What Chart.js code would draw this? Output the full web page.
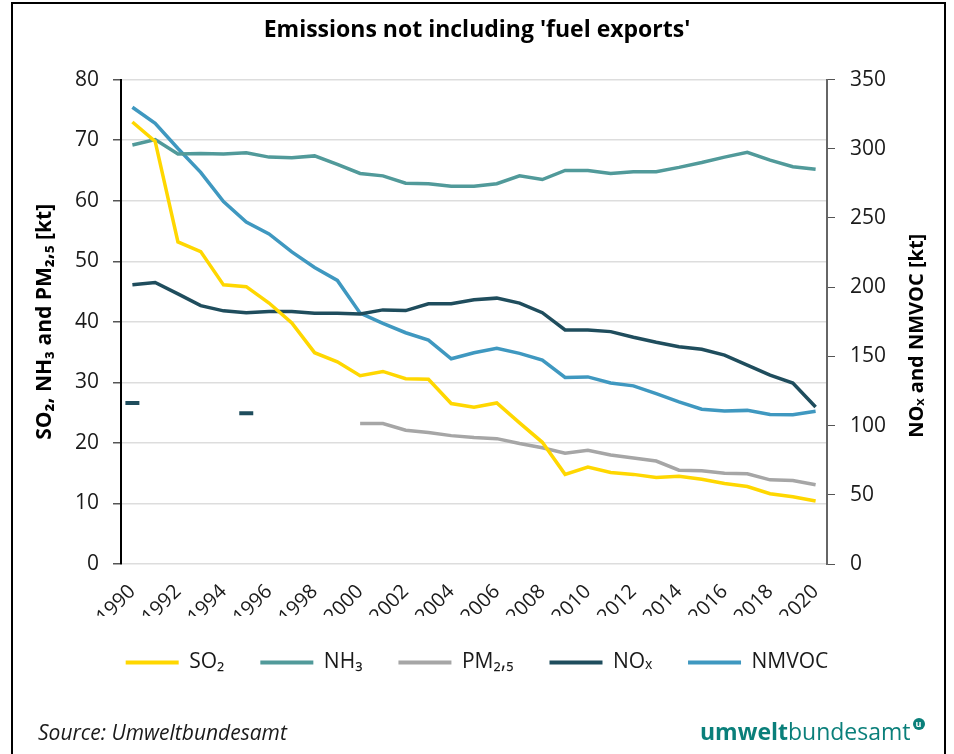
<!DOCTYPE html>
<html>
<head>
<meta charset="utf-8">
<script src="https://cdn.jsdelivr.net/npm/chart.js@4.4.1/dist/chart.umd.min.js"></script>
<style>
  body { margin: 0; background: #fff; font-family: 'Open Sans', sans-serif; }
  #wrap { position: relative; width: 954px; height: 754px; overflow: hidden; }
  #chart { position: absolute; left: 0; top: 0; }
  #frame { position: absolute; left: 11px; top: 2px; width: 931px; height: 800px; border: 2px solid #000; pointer-events: none; }
  #source { position: absolute; left: 38px; top: 720px; font-size: 21px; line-height: 24px; font-style: italic; color: #1a1a1a; }
  #logo { position: absolute; left: 700px; top: 718px; font-size: 23px; line-height: 26px; color: #0a7f7a; }
  #logo b { font-weight: 700; }
  #logo span { display: inline-block; width: 12px; height: 12px; border-radius: 6px; background: #0a7f7a; color: #fff; font-size: 9px; line-height: 12px; text-align: center; vertical-align: 13px; margin-left: 2px; font-weight: 700; }
</style>
</head>
<body>
<div id="wrap">
  <canvas id="chart" width="954" height="754"></canvas>
  <div id="frame"></div>
  <div id="source">Source: Umweltbundesamt</div>
  <div id="logo"><b>umwelt</b>bundesamt<span>u</span></div>
</div>
<script>
// values
var years = ['1990','1991','1992','1993','1994','1995','1996','1997','1998','1999',
             '2000','2001','2002','2003','2004','2005','2006','2007','2008','2009',
             '2010','2011','2012','2013','2014','2015','2016','2017','2018','2019','2020'];

// left axis (kt)
var so2 = [73.0, 69.8, 53.2, 51.6, 46.1, 45.8, 43.1, 39.8, 34.9, 33.4,
           31.1, 31.8, 30.6, 30.5, 26.5, 25.9, 26.6, 23.3, 20.1, 14.8,
           16.0, 15.1, 14.8, 14.3, 14.5, 14.0, 13.3, 12.8, 11.6, 11.1, 10.4];
var nh3 = [69.2, 70.1, 67.7, 67.8, 67.7, 67.9, 67.2, 67.1, 67.4, 66.0,
           64.5, 64.1, 62.9, 62.8, 62.4, 62.4, 62.8, 64.1, 63.5, 65.0,
           65.0, 64.5, 64.8, 64.8, 65.5, 66.3, 67.2, 68.0, 66.7, 65.6, 65.2];
var pm25 = [null, null, null, null, null, null, null, null, null, null,
            23.2, 23.2, 22.1, 21.7, 21.2, 20.9, 20.7, 19.9, 19.2, 18.3,
            18.8, 18.0, 17.5, 17.0, 15.5, 15.4, 15.0, 14.9, 13.9, 13.8, 13.1];

// right axis (kt)
var nox = [201.7, 203.4, 195.2, 186.7, 182.9, 181.6, 182.4, 182.4, 181.2, 181.2,
           180.7, 183.6, 183.1, 188.0, 188.0, 190.9, 192.1, 188.5, 181.6, 169.1,
           169.1, 167.9, 163.8, 160.2, 157.0, 155.1, 150.9, 143.7, 136.4, 130.8, 113.4];
var nmvoc = [330.0, 318.4, 300.2, 283.0, 261.8, 247.0, 238.5, 225.5, 214.3, 204.9,
             181.2, 173.9, 167.1, 161.8, 148.3, 152.6, 155.8, 152.2, 147.3, 134.8,
             135.2, 130.8, 128.7, 123.1, 117.1, 111.8, 110.6, 111.0, 108.1, 107.9, 110.3];
// two stray NOx markers in the original graphic
var noxMarks = [116.3, null, null, null, null, 108.9, null, null, null, null,
                null, null, null, null, null, null, null, null, null, null,
                null, null, null, null, null, null, null, null, null, null, null];

var colSO2 = '#ffd700', colNH3 = '#519a9a', colPM = '#a6a6a6', colNOx = '#1f4d5d', colVOC = '#3f98c0';

Chart.defaults.font.family = "'Open Sans', sans-serif";
Chart.defaults.color = '#1a1a1a';

function lineSet(label, data, color, axis) {
    return {
        label: label,
        data: data,
        yAxisID: axis,
        borderColor: color,
        backgroundColor: color,
        borderWidth: 3.5,
        pointRadius: 0,
        tension: 0,
        spanGaps: false
    };
}

var rightTitle = {
    id: 'rightTitle',
    afterDraw: function(chart) {
        var ctx = chart.ctx, a = chart.chartArea;
        ctx.save();
        ctx.translate(chart.scales.y1.right - 37, (a.top + a.bottom) / 2 + 14);
        ctx.rotate(-Math.PI / 2);
        ctx.font = "bold 20px 'Open Sans', sans-serif";
        ctx.fillStyle = '#000';
        ctx.textAlign = 'center';
        ctx.textBaseline = 'middle';
        ctx.fillText('NOₓ and NMVOC [kt]', 0, 0);
        ctx.restore();
    }
};

var ctx = document.getElementById('chart').getContext('2d');
new Chart(ctx, {
    type: 'line',
    data: {
        labels: years,
        datasets: [
            lineSet('SO₂', so2, colSO2, 'y'),
            lineSet('NH₃', nh3, colNH3, 'y'),
            lineSet('PM₂,₅', pm25, colPM, 'y'),
            lineSet('NOₓ', nox, colNOx, 'y1'),
            lineSet('NMVOC', nmvoc, colVOC, 'y1'),
            {
                label: 'marks',
                data: noxMarks,
                yAxisID: 'y1',
                showLine: false,
                pointStyle: 'line',
                pointRadius: 7,
                pointBorderWidth: 4,
                pointBorderColor: colNOx,
                borderColor: colNOx,
                backgroundColor: colNOx
            }
        ]
    },
    options: {
        responsive: false,
        animation: false,
        layout: { padding: { left: 0, right: 0, top: 0, bottom: 71 } },
        plugins: {
            title: {
                display: true,
                text: "Emissions not including 'fuel exports'",
                color: '#000',
                font: { size: 23, weight: 'bold' },
                padding: { top: 17, bottom: 35 }
            },
            legend: {
                position: 'bottom',
                labels: {
                    boxWidth: 53,
                    boxHeight: 4,
                    padding: 36,
                    font: { size: 21 },
                    color: '#1a1a1a',
                    generateLabels: function(chart) {
                        var items = Chart.defaults.plugins.legend.labels.generateLabels(chart);
                        return items.filter(function(it) { return it.text !== 'marks'; }).map(function(it) {
                            it.lineWidth = 0;
                            it.fillStyle = it.strokeStyle;
                            return it;
                        });
                    }
                }
            },
            tooltip: { enabled: false }
        },
        scales: {
            x: {
                offset: true,
                grid: { display: false },
                border: { display: false },
                ticks: {
                    autoSkip: false,
                    minRotation: 45,
                    maxRotation: 45,
                    font: { size: 20 },
                    padding: 8,
                    callback: function(v, i) { return i % 2 === 0 ? years[i] : ''; }
                },
                afterFit: function(s) { s.height = 52; }
            },
            y: {
                position: 'left',
                min: 0,
                max: 80,
                ticks: { stepSize: 10, font: { size: 21 }, padding: 14 },
                grid: { color: '#dddddd', lineWidth: 1.5, tickColor: '#555', tickLength: 8 },
                border: { color: '#000', width: 2 },
                title: {
                    display: true,
                    text: 'SO₂, NH₃ and PM₂,₅ [kt]',
                    color: '#000',
                    font: { size: 21, weight: 'bold' },
                    padding: { top: 32, bottom: 0 }
                },
                afterFit: function(s) { s.width = 121; }
            },
            y1: {
                position: 'right',
                min: 0,
                max: 350,
                ticks: { stepSize: 50, font: { size: 21 }, padding: 15 },
                grid: { drawOnChartArea: false, tickColor: '#555', tickLength: 8 },
                border: { color: '#666', width: 2 },
                afterFit: function(s) { s.width = 127; }
            }
        }
    },
    plugins: [rightTitle]
});
</script>
</body>
</html>
